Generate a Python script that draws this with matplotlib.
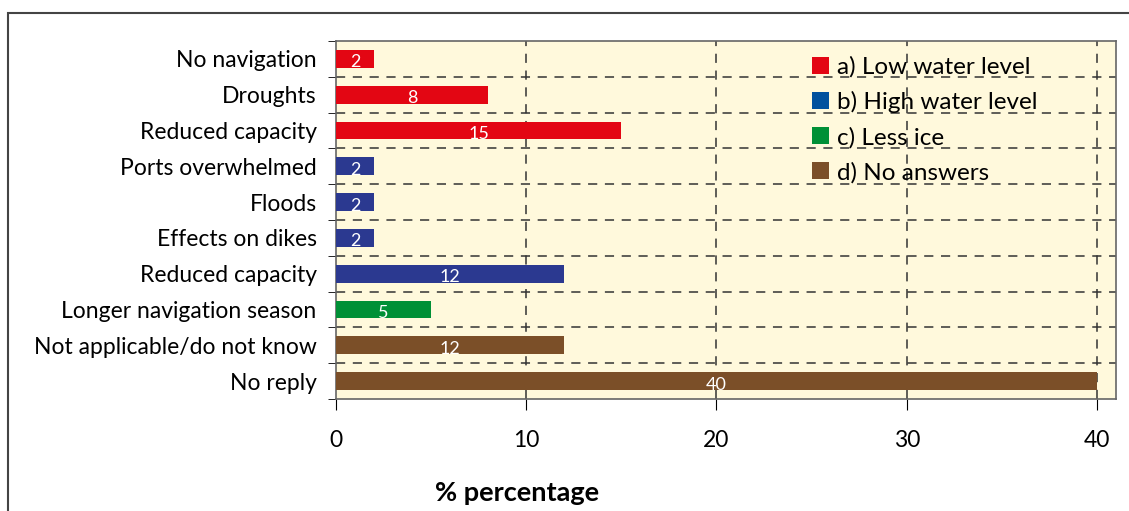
import matplotlib
matplotlib.use("Agg")
import matplotlib.pyplot as plt
from matplotlib.patches import Rectangle, Patch

# Data (top to bottom)
labels = ["No navigation", "Droughts", "Reduced capacity", "Ports overwhelmed",
          "Floods", "Effects on dikes", "Reduced capacity",
          "Longer navigation season", "Not applicable/do not know", "No reply"]
values = [2, 8, 15, 2, 2, 2, 12, 5, 12, 40]
groups = ["a", "a", "a", "b", "b", "b", "b", "c", "d", "d"]

bar_colors = {"a": "#E30613", "b": "#2B3990", "c": "#009036", "d": "#7B4F28"}
legend_labels = ["a) Low water level", "b) High water level", "c) Less ice", "d) No answers"]
legend_colors = ["#E30613", "#00519E", "#009036", "#7B4F28"]

plt.rcParams['font.family'] = ['Lato', 'DejaVu Sans']

fig = plt.figure(figsize=(11.29, 5.11), dpi=100)
ax = fig.add_axes([336 / 1129, 112 / 511, 780 / 1129, 358 / 511])
ax.set_facecolor("#FFF9DC")

ypos = list(range(len(labels)))
ax.barh(ypos, values, height=0.5, color=[bar_colors[g] for g in groups], zorder=3)
for y, v in zip(ypos, values):
    ax.text(v / 2, y + 0.1, str(v), color="white", ha="center", va="center",
            fontsize=13, zorder=4)

ax.set_xlim(0, 41)
ax.set_ylim(len(labels) - 0.5, -0.5)
ax.set_yticks(ypos)
ax.set_yticklabels(labels, fontsize=16.5)
ax.set_yticks([i - 0.5 for i in range(len(labels) + 1)], minor=True)
ax.tick_params(axis="y", which="major", length=0, pad=14)
ax.tick_params(axis="y", which="minor", length=6, direction="out")
ax.set_xticks([0, 10, 20, 30, 40])
ax.tick_params(axis="x", labelsize=16.5, length=8, direction="out", pad=14)

for i in range(1, len(labels)):
    ax.axhline(i - 0.5, color="#333333", lw=1.1, ls=(0, (6, 5)), zorder=1)
for x in [10, 20, 30, 40]:
    ax.axvline(x, color="#333333", lw=1.1, ls=(0, (6, 5)), zorder=1)

for side in ["top", "right", "bottom", "left"]:
    ax.spines[side].set_color("#666666")
    ax.spines[side].set_linewidth(1.2)

ax.set_xlabel("% percentage", fontsize=19.5, fontweight="bold")
ax.xaxis.set_label_coords(0.232, -0.228)

handles = [Patch(facecolor=c, edgecolor="none") for c in legend_colors]
leg = ax.legend(handles, legend_labels, loc="upper left", bbox_to_anchor=(0.582, 1.018),
                frameon=False, fontsize=17.5, handlelength=0.7, handleheight=0.7,
                handletextpad=0.35, labelspacing=0.55)
leg.set_zorder(5)

# outer frame
fig.patches.append(Rectangle((8 / 1129, -0.1), 1.2, (511 - 13) / 511 + 0.1,
                             transform=fig.transFigure, fill=False,
                             edgecolor="#444444", lw=1.5, clip_on=False))

fig.savefig("out.png", dpi=100)
